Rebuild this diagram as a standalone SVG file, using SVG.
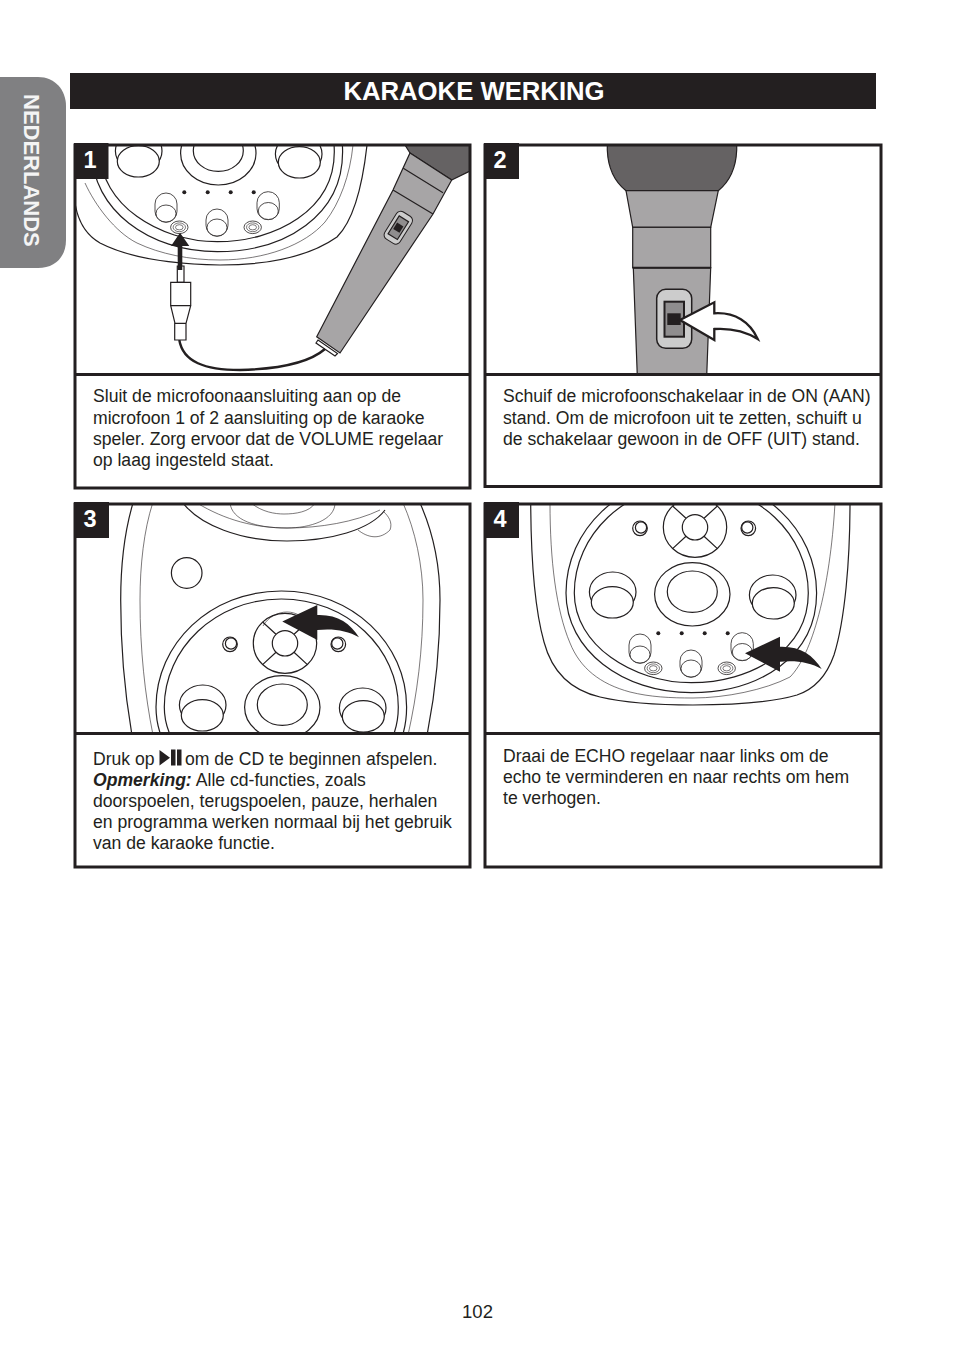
<svg xmlns="http://www.w3.org/2000/svg" xmlns:xlink="http://www.w3.org/1999/xlink" width="954" height="1363" viewBox="0 0 954 1363">
<style>
text{font-family:"Liberation Sans",Arial,sans-serif;fill:#231f20}
.body{font-size:17.6px}
.num{font-size:23.5px;font-weight:bold;fill:#fff;text-anchor:middle}
.frame{fill:none;stroke:#231f20;stroke-width:3}
.ln{fill:none;stroke:#231f20;stroke-width:1.2}
.wl{fill:#fff;stroke:#231f20;stroke-width:1.2}
.sl{fill:none;stroke:#231f20;stroke-width:.8}
.sw{fill:#fff;stroke:#231f20;stroke-width:.8}
.th{fill:none;stroke:#231f20;stroke-width:.6}
.badge{fill:#231f20}
.mh{fill:#656263;stroke:#231f20;stroke-width:1.2}
.mb{fill:#a7a5a6;stroke:#231f20;stroke-width:1.2}
.d{fill:#231f20}
</style>
<defs>
<clipPath id="c1"><rect x="76" y="146" width="393" height="227"/></clipPath>
<clipPath id="c2"><rect x="486" y="146" width="394" height="227"/></clipPath>
<clipPath id="c3"><rect x="76" y="505" width="393" height="227"/></clipPath>
<clipPath id="c4"><rect x="486" y="505" width="394" height="227"/></clipPath>
<path id="curl" d="M745 653.3L780 636.7V646.7C800 646 813 655 821.7 669C810 662 795 660 780 661.7V671.7Z"/>
<g id="dial">
<ellipse class="ln" cx="695" cy="527.3" rx="31.7" ry="30"/>
<path class="ln" d="M672.6 506L686 518.3M717.4 506L704 518.3M672.6 548.6L686 536.3M717.4 548.6L704 536.3"/>
<circle class="wl" cx="695" cy="527.3" r="12.7"/>
<circle class="ln" cx="640" cy="528.3" r="7.3"/><circle class="ln" cx="641" cy="527.5" r="5.6"/>
<circle class="ln" cx="748.3" cy="528.3" r="7.3"/><circle class="ln" cx="747.3" cy="527.5" r="5.6"/>
</g>
<g id="rings">
<path class="ln" d="M566 593C566 530 620 477 691.3 477S816.6 530 816.6 593S760 692.7 691.3 692.7S566 650 566 593Z"/>
<path class="ln" d="M574.3 593C574.3 535 625 485 691.3 485S808.3 535 808.3 593S750 682.7 691.3 682.7S574.3 645 574.3 593Z"/>
</g>
<g id="knobs">
<ellipse class="ln" cx="692.3" cy="594.3" rx="37.7" ry="31.7"/>
<ellipse class="ln" cx="692.3" cy="591.7" rx="25" ry="20.7"/>
<ellipse class="ln" cx="612.7" cy="592" rx="23.3" ry="20"/>
<ellipse class="wl" cx="612.3" cy="602.3" rx="21" ry="15.7"/>
<ellipse class="ln" cx="772.7" cy="595" rx="23.3" ry="20"/>
<ellipse class="wl" cx="773.3" cy="603.3" rx="21" ry="15.7"/>
</g>
<g id="sliders">
<rect class="sl" x="629" y="634" width="22" height="29.3" rx="11" ry="11"/>
<ellipse class="sw" cx="640" cy="654.5" rx="10" ry="8.5"/>
<rect class="sl" x="680" y="650" width="22" height="27.3" rx="11" ry="11"/>
<ellipse class="sw" cx="691" cy="668.5" rx="10" ry="8.5"/>
<rect class="sl" x="731" y="632.7" width="22.3" height="28" rx="11" ry="11"/>
<ellipse class="sw" cx="742.3" cy="652" rx="10" ry="8.5"/>
<g id="jacks">
<ellipse class="sl" cx="653.3" cy="668.3" rx="8.7" ry="6.3"/><ellipse class="th" cx="653.3" cy="668.3" rx="6.2" ry="4.4"/><ellipse class="th" cx="653.3" cy="668.3" rx="3.8" ry="2.6"/>
<ellipse class="sl" cx="726.7" cy="668.3" rx="8.7" ry="6.3"/><ellipse class="th" cx="726.7" cy="668.3" rx="6.2" ry="4.4"/><ellipse class="th" cx="726.7" cy="668.3" rx="3.8" ry="2.6"/>
</g>
<circle class="d" cx="658.3" cy="633.3" r="2"/><circle class="d" cx="681.7" cy="633.3" r="2"/><circle class="d" cx="704.7" cy="633.3" r="2"/><circle class="d" cx="727.7" cy="633.3" r="2"/>
</g>
</defs>

<g id="side-tab">
<path d="M0 77H38C55 77 66 90 66 106V240C66 257 55 268 38 268H0Z" fill="#808082"/>
<text transform="translate(24 94) rotate(90)" font-size="22" font-weight="bold" style="fill:#f4f4f4">NEDERLANDS</text>
</g>

<g id="header">
<rect x="70" y="73" width="806" height="36" fill="#231f20"/>
<text x="474" y="100" font-size="25.7" font-weight="bold" text-anchor="middle" style="fill:#fff">KARAOKE WERKING</text>
</g>

<g id="step-1">
<g clip-path="url(#c1)">
<path class="ln" d="M75 203C78 222 86 235 100 243C125 256 160 264 220 265C270 265 310 256 337 237C352 222 362 190 367 145"/>
<path class="th" d="M85 183C95 205 115 232 137 243C160 254 190 260 220 260C265 260 305 245 325 222C340 203 350 175 353 145"/>
<g transform="translate(-474 -441)">
<use xlink:href="#rings" href="#rings"/><use xlink:href="#knobs" href="#knobs"/><use xlink:href="#sliders" href="#sliders"/>
</g>
<path class="mh" d="M410 153L405 145H472V170L451.7 180Z" stroke-linejoin="round"/>
<path class="mb" d="M410 153L451.7 180L433 214L340 353L316.7 336.7L393 190Z"/>
<path class="ln" d="M403.3 168.3L443 192.7M393 190L433 214"/>
<path class="wl" d="M318 340L337.5 353.5L335 356L316 343Z"/>
<g transform="translate(398.3 227.7) rotate(32)">
<rect x="-9" y="-16" width="18" height="32" rx="5" fill="#ccc" stroke="#231f20" stroke-width="1"/>
<rect x="-5.5" y="-10.5" width="11" height="21" fill="#8f8d8e" stroke="#231f20" stroke-width="1.2"/>
<rect x="-3.7" y="-3.7" width="7.4" height="7.4" class="d"/>
</g>
<path d="M179.3 340C183 362 205 370 240 370C280 369 310 362 325 349" fill="none" stroke="#231f20" stroke-width="2.4"/>
<path class="wl" d="M177.3 266H184V282.3H177.3Z"/>
<path class="wl" d="M170.7 282.3H190.7V305.7H170.7ZM170.7 305.7H190.7L186 323.3H175ZM174.7 323.3H186V340H174.7Z"/>
<path class="d" d="M177.7 270V246H171L180 232.7L189.3 246H182.3V270Z"/>
</g>
<rect class="badge" x="74" y="143" width="34.500" height="36"/>
<text class="num" x="90" y="167.500">1</text>
<rect class="frame" x="75" y="145" width="395" height="343"/>
<path class="frame" d="M75 374.500H470"/>
<text class="body"><tspan x="93" y="402">Sluit de microfoonaansluiting aan op de</tspan><tspan x="93" y="424">microfoon 1 of 2 aansluiting op de karaoke</tspan><tspan x="93" y="445">speler. Zorg ervoor dat de VOLUME regelaar</tspan><tspan x="93" y="466">op laag ingesteld staat.</tspan></text>
</g>

<g id="step-2">
<g clip-path="url(#c2)">
<path class="mh" d="M607.300 140V150C608 168 615 182 626 190.700H718.300C729 182 736 168 736.700 150V140Z"/>
<path class="mb" d="M626 190.700H718.300L710.700 227.300H632.700Z"/>
<path class="mb" d="M633.300 267.700H710.700L706.700 376H637.300Z"/>
<rect class="mb" x="632.700" y="227.300" width="78" height="40.400"/>
<path d="M632.700 267.700H710.700" stroke="#231f20" stroke-width="2"/>
<rect x="656.700" y="289.300" width="35" height="59" rx="9" fill="#ccc" stroke="#231f20" stroke-width="1.500"/>
<rect x="664.500" y="301.700" width="19.500" height="35" fill="#8f8d8e" stroke="#231f20" stroke-width="2"/>
<rect x="667.300" y="313.300" width="13.400" height="11.700" class="d"/>
<path d="M680 320L714.300 302.300V313.300C735 312 750 322 757.700 339C745 331 730 328 714.300 329V340Z" fill="#fff" stroke="#231f20" stroke-width="2.300"/>
</g>
<rect class="badge" x="484" y="143" width="35" height="36"/>
<text class="num" x="500" y="167.500">2</text>
<rect class="frame" x="485" y="145" width="396" height="341.500"/>
<path class="frame" d="M485 374.500H881"/>
<text class="body"><tspan x="503" y="402">Schuif de microfoonschakelaar in de ON (AAN)</tspan><tspan x="503" y="424">stand. Om de microfoon uit te zetten, schuift u</tspan><tspan x="503" y="445">de schakelaar gewoon in de OFF (UIT) stand.</tspan></text>
</g>

<g id="step-3">
<g clip-path="url(#c3)">
<path class="ln" d="M133 503C125 530 120.700 565 120.700 600C120.700 650 125 695 132 735"/>
<path class="ln" d="M420 503C432 530 440 565 440 600C440 650 435 695 427 735"/>
<path class="th" d="M152.700 503C144 530 140 565 140 600C140 650 145 695 153 735"/>
<path class="th" d="M403 503C415 530 423 565 423 600C423 650 417 695 408 735"/>
<path class="ln" d="M183 503C200 525 240 541 287 541C330 541 370 530 385 510"/>
<path class="th" d="M197 503C225 520 255 528 287 528C320 528 355 522 380 510"/>
<path class="th" d="M230 503C232 520 255 528 287 528C310 528 335 520 335 503"/>
<path class="th" d="M251 503C262 512 275 514 284 514C295 514 310 512 315 503"/>
<path class="th" d="M358 530C368 538 380 540 390 530C393 522 388 516 384 512"/>
<circle class="ln" cx="186.700" cy="573" r="15.300"/>
<g transform="translate(-410 114)"><use xlink:href="#rings" href="#rings"/></g>
<g transform="translate(-410 113)"><use xlink:href="#knobs" href="#knobs"/></g>
<g transform="translate(-410 116)"><use xlink:href="#dial" href="#dial"/></g>
<path class="th" d="M263 626C268 617 278 612 287 612C296 612 305 617 309 626"/>
<use xlink:href="#curl" href="#curl" transform="translate(-462.700 -31.700)" class="d"/>
</g>
<rect class="badge" x="74" y="502" width="35" height="36"/>
<text class="num" x="90" y="527">3</text>
<rect class="frame" x="75" y="504" width="395" height="363"/>
<path class="frame" d="M75 733.500H470"/>
<text class="body"><tspan x="93" y="765">Druk op</tspan><tspan x="185" y="765">om de CD te beginnen afspelen.</tspan><tspan x="93" y="786" font-weight="bold" font-style="italic">Opmerking:</tspan><tspan dx="4" y="786">Alle cd-functies, zoals</tspan><tspan x="93" y="807">doorspoelen, terugspoelen, pauze, herhalen</tspan><tspan x="93" y="828">en programma werken normaal bij het gebruik</tspan><tspan x="93" y="849">van de karaoke functie.</tspan></text>
<path id="play-pause" class="d" d="M159.500 750L170 757.700L159.500 765.500ZM171 749.500H175.500V765.500H171ZM177 749.500H181.500V765.500H177Z"/>
</g>

<g id="step-4">
<g clip-path="url(#c4)">
<path class="ln" d="M530.700 503C531 560 535 610 544 642C552 672 570 690 600 697C630 704 665 705 693 705C730 705 770 703 797 695C815 689 827 675 834 655C845 620 850 560 850 503"/>
<path class="th" d="M550 503C550 560 556 610 570 643C580 668 600 684 630 692C650 697 670 698 693 698C725 698 765 690 790 677C812 655 830 590 835 503"/>
<use xlink:href="#rings" href="#rings"/><use xlink:href="#knobs" href="#knobs"/><use xlink:href="#sliders" href="#sliders"/><use xlink:href="#dial" href="#dial"/>
<use xlink:href="#curl" href="#curl" class="d"/>
</g>
<rect class="badge" x="484" y="502" width="35" height="36"/>
<text class="num" x="500" y="527">4</text>
<rect class="frame" x="485" y="504" width="396" height="363"/>
<path class="frame" d="M485 733.500H881"/>
<text class="body"><tspan x="503" y="762">Draai de ECHO regelaar naar links om de</tspan><tspan x="503" y="783">echo te verminderen en naar rechts om hem</tspan><tspan x="503" y="804">te verhogen.</tspan></text>
</g>

<text id="page-number" x="477.500" y="1318" font-size="18.500" text-anchor="middle">102</text>
</svg>
